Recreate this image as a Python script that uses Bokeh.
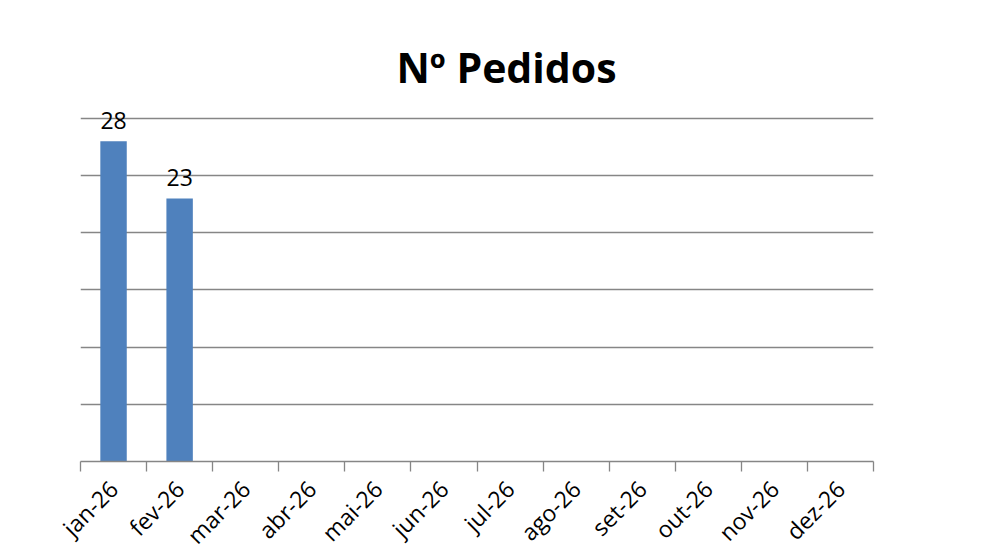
from bokeh.plotting import figure
from bokeh.models import Range1d, FixedTicker, ColumnDataSource
from bokeh.embed import file_html
from bokeh.resources import INLINE
from bokeh.core.properties import value

months = ["jan-26", "fev-26", "mar-26", "abr-26", "mai-26", "jun-26",
          "jul-26", "ago-26", "set-26", "out-26", "nov-26", "dez-26"]
pedidos = [28, 23]
y_ticks = [5, 10, 15, 20, 25, 30]
y_top = 31.574

centers = [i + 0.5 for i in range(len(months))]
bar_src = ColumnDataSource(dict(
    x=centers[:len(pedidos)],
    top=pedidos,
    label=[str(v) for v in pedidos],
))

p = figure(frame_width=793, frame_height=361, output_backend="svg", toolbar_location=None,
           x_range=Range1d(0, len(months)), y_range=Range1d(0, y_top),
           min_border_left=80, min_border_right=117, min_border_top=100,
           min_border_bottom=80, title="Nº Pedidos")
p.outline_line_color = None
p.background_fill_color = "white"
p.border_fill_color = "white"

p.title.text_font = "Open Sans"
p.title.text_font_size = "41px"
p.title.text_font_style = "bold"
p.title.text_color = "black"
p.title.align = "left"
p.title.offset = 316
p.title.standoff = 12

p.vbar(x="x", top="top", width=0.4, bottom=0, source=bar_src,
       fill_color="#4F81BD", line_color=None)
p.text(x="x", y="top", text="label", source=bar_src, text_align="center",
       text_baseline="alphabetic", y_offset=-21, text_font=value("Open Sans"),
       text_font_size="23px", text_color="black")

p.yaxis.visible = False
p.xgrid.visible = False
p.ygrid.ticker = FixedTicker(ticks=y_ticks)
p.ygrid.grid_line_color = "#868686"
p.ygrid.grid_line_width = 1.3

xa = p.xaxis[0]
xa.ticker = FixedTicker(ticks=centers, minor_ticks=list(range(len(months) + 1)))
xa.major_label_overrides = {c: m for c, m in zip(centers, months)}
xa.major_tick_line_color = None
xa.major_tick_out = 10
xa.minor_tick_out = 10
xa.minor_tick_in = 0
xa.minor_tick_line_color = "#868686"
xa.minor_tick_line_width = 1.3
xa.axis_line_color = "#868686"
xa.axis_line_width = 1.3
xa.major_label_orientation = 0.785398
xa.major_label_text_font = "Open Sans"
xa.major_label_text_font_size = "23px"
xa.major_label_text_color = "black"
xa.major_label_standoff = 13

open("out.html", "w").write(file_html(p, INLINE))
